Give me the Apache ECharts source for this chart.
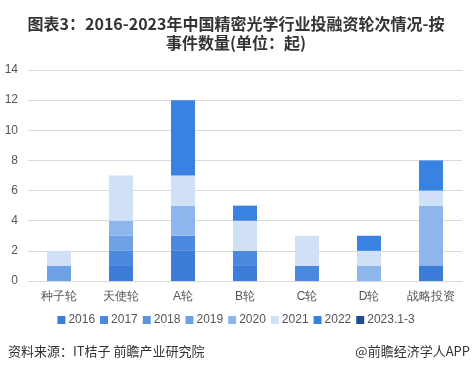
<!DOCTYPE html>
<html><head><meta charset="utf-8">
<script src="https://cdn.jsdelivr.net/npm/echarts@6/dist/echarts.min.js"></script>
<style>html,body{margin:0;padding:0;background:#fff;}#c{width:472px;height:375px;}</style>
</head><body><div id="c"></div>
<script>
const categories = ['种子轮','天使轮','A轮','B轮','C轮','D轮','战略投资'];
const seriesNames = ['2016','2017','2018','2019','2020','2021','2022','2023.1-3'];
const v2016 = [0,1,2,1,0,0,1];
const v2017 = [0,1,1,1,1,0,0];
const v2018 = [0,0,0,0,0,0,0];
const v2019 = [1,1,0,0,0,0,0];
const v2020 = [0,1,2,0,0,1,4];
const v2021 = [1,3,2,2,2,1,1];
const v2022 = [0,0,5,1,0,1,2];
const v2023 = [0,0,0,0,0,0,0];
const yTicks = [0,2,4,6,8,10,12,14];
const values = [v2016,v2017,v2018,v2019,v2020,v2021,v2022,v2023];
const colors = ['#3b7dd8','#4a89dd','#5b93df','#6fa2e4','#8db7ec','#d0e0f6','#3a82e2','#1f4e8f'];
const chart = echarts.init(document.getElementById('c'));
chart.setOption({
  animation:false,
  title:{text:'图表3：2016-2023年中国精密光学行业投融资轮次情况-按\n事件数量(单位：起)',left:'center',top:9,
    textStyle:{fontSize:16,fontWeight:'bold',color:'#333',lineHeight:19,fontFamily:'"Noto Sans CJK SC",sans-serif'}},
  grid:{left:28,right:10,top:70,bottom:94},
  legend:{bottom:44,itemWidth:8,itemHeight:8,itemGap:5,icon:'rect',
    textStyle:{fontSize:12,color:'#555',padding:[0,0,0,-2]},data:seriesNames},
  xAxis:{type:'category',data:categories,axisTick:{show:false},
    axisLine:{lineStyle:{color:'#d9d9d9'}},
    axisLabel:{color:'#555',fontSize:12,margin:10,interval:0}},
  yAxis:{type:'value',min:0,max:14,interval:2,
    axisLabel:{color:'#555',fontSize:12,margin:10},
    splitLine:{lineStyle:{color:'#d9d9d9'}},axisLine:{show:false},axisTick:{show:false}},
  series: seriesNames.map((n,i)=>({name:n,type:'bar',stack:'s',barWidth:24,
    itemStyle:{color:colors[i]},data:values[i]})),
  graphic:[
    {type:'text',left:8,top:345,style:{text:'资料来源：IT桔子 前瞻产业研究院',fontSize:13,fill:'#333',fontFamily:'"Noto Sans CJK SC",sans-serif'}},
    {type:'text',right:2,top:345,style:{text:'@前瞻经济学人APP',fontSize:13,fill:'#333',fontFamily:'"Noto Sans CJK SC",sans-serif'}}
  ]
});
</script></body></html>
